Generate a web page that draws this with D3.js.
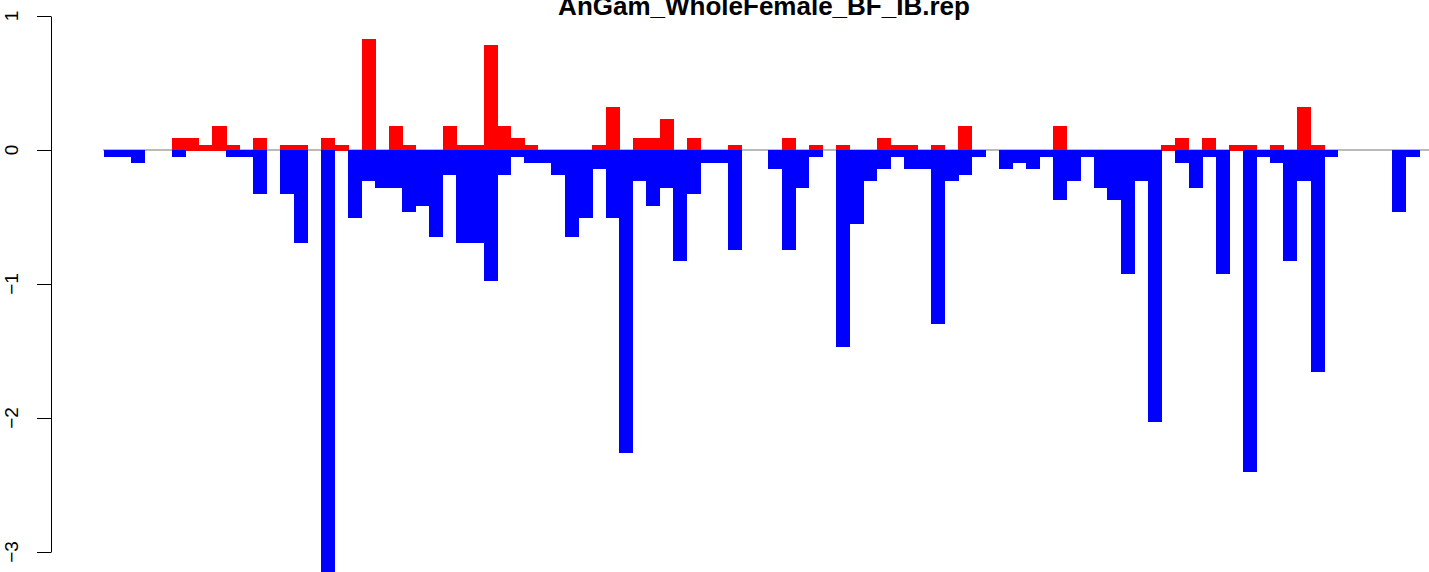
<!DOCTYPE html>
<html><head><meta charset="utf-8">
<script src="https://cdn.jsdelivr.net/npm/d3@7"></script>
<style>html,body{margin:0;padding:0;background:#fff;overflow:hidden}</style>
</head><body>
<svg id="chart" width="1429" height="572"></svg>
<script>
const title = "AnGam_WholeFemale_BF_IB.rep";
const positives = [
  0, 0, 0, 0, 0, 0.093, 0.093, 0.04, 0.18, 0.04,
  0, 0.093, 0, 0.04, 0.04, 0, 0.093, 0.04, 0, 0.826,
  0, 0.18, 0.04, 0, 0, 0.18, 0.04, 0.04, 0.78, 0.18,
  0.093, 0.04, 0, 0, 0, 0, 0.04, 0.32, 0, 0.093,
  0.093, 0.23, 0, 0.093, 0, 0, 0.04, 0, 0, 0,
  0.093, 0, 0.04, 0, 0.04, 0, 0, 0.093, 0.04, 0.04,
  0, 0.04, 0, 0.18, 0, 0, 0, 0, 0, 0,
  0.18, 0, 0, 0, 0, 0, 0, 0, 0.04, 0.093,
  0, 0.093, 0, 0.04, 0.04, 0, 0.04, 0, 0.32, 0.04,
  0, 0, 0, 0, 0, 0, 0
];
const negatives = [
  -0.055, -0.055, -0.10, 0, 0, -0.055, 0, 0, 0, -0.055,
  -0.055, -0.33, 0, -0.33, -0.695, 0, -3.3, 0, -0.51, -0.235,
  -0.28, -0.28, -0.466, -0.42, -0.65, -0.19, -0.695, -0.695, -0.976, -0.19,
  -0.055, -0.10, -0.10, -0.19, -0.65, -0.51, -0.145, -0.51, -2.26, -0.235,
  -0.42, -0.28, -0.83, -0.33, -0.10, -0.10, -0.745, 0, 0, -0.145,
  -0.745, -0.28, -0.055, 0, -1.47, -0.55, -0.235, -0.145, -0.055, -0.145,
  -0.145, -1.295, -0.235, -0.19, -0.055, 0, -0.145, -0.10, -0.145, -0.055,
  -0.376, -0.235, -0.055, -0.28, -0.376, -0.927, -0.235, -2.03, 0, -0.10,
  -0.28, -0.055, -0.927, 0, -2.40, -0.055, -0.10, -0.83, -0.235, -1.66,
  -0.055, 0, 0, 0, 0, -0.466, -0.055
];
const categories = positives.map((d, i) => String(i + 1));
const yTicks = [-3, -2, -1, 0, 1];
const yTickLabels = ["\u22123", "\u22122", "\u22121", "0", "1"];

const svg = d3.select("#chart");
const x = d3.scaleBand().domain(categories).range([104, 1419]).padding(0);
const y = d3.scaleLinear().domain([-3, 1]).range([552, 16]);

// zero reference line
svg.append("line")
  .attr("x1", x(categories[0]) - 1).attr("x2", 1440)
  .attr("y1", y(0)).attr("y2", y(0))
  .attr("stroke", "#a3a3a3").attr("stroke-width", 1.5);

// positive bars
svg.append("g").attr("shape-rendering", "crispEdges").selectAll("rect")
  .data(categories.map((c, i) => ({c, v: positives[i]})).filter(d => d.v > 0))
  .join("rect")
  .attr("x", d => x(d.c)).attr("width", x.bandwidth() + 0.5)
  .attr("y", d => y(d.v)).attr("height", d => y(0) - y(d.v) + 0.8)
  .attr("fill", "#ff0000");

// negative bars
svg.append("g").attr("shape-rendering", "crispEdges").selectAll("rect")
  .data(categories.map((c, i) => ({c, v: negatives[i]})).filter(d => d.v < 0))
  .join("rect")
  .attr("x", d => x(d.c)).attr("width", x.bandwidth() + 0.5)
  .attr("y", y(0)).attr("height", d => y(d.v) - y(0))
  .attr("fill", "#0000ff");

// y axis
const axis = svg.append("g").attr("transform", "translate(51,0)")
  .call(d3.axisLeft(y).tickValues(yTicks).tickSize(14).tickSizeOuter(0).tickFormat(() => ""));
axis.select(".domain").attr("stroke", "#000");
axis.selectAll(".tick line").attr("stroke", "#000");

svg.append("g").selectAll("text")
  .data(yTicks)
  .join("text")
  .attr("transform", d => `translate(18,${y(d)}) rotate(-90)`)
  .attr("text-anchor", "middle")
  .attr("font-family", "Liberation Sans, Arial, sans-serif")
  .attr("font-size", 19)
  .attr("fill", "#000")
  .text((d, i) => yTickLabels[i]);

// title
svg.append("text")
  .attr("x", 764).attr("y", 14.5)
  .attr("text-anchor", "middle")
  .attr("font-family", "Liberation Sans, Arial, sans-serif")
  .attr("font-weight", "bold")
  .attr("font-size", 26)
  .attr("fill", "#000")
  .text(title);
</script>
</body></html>
